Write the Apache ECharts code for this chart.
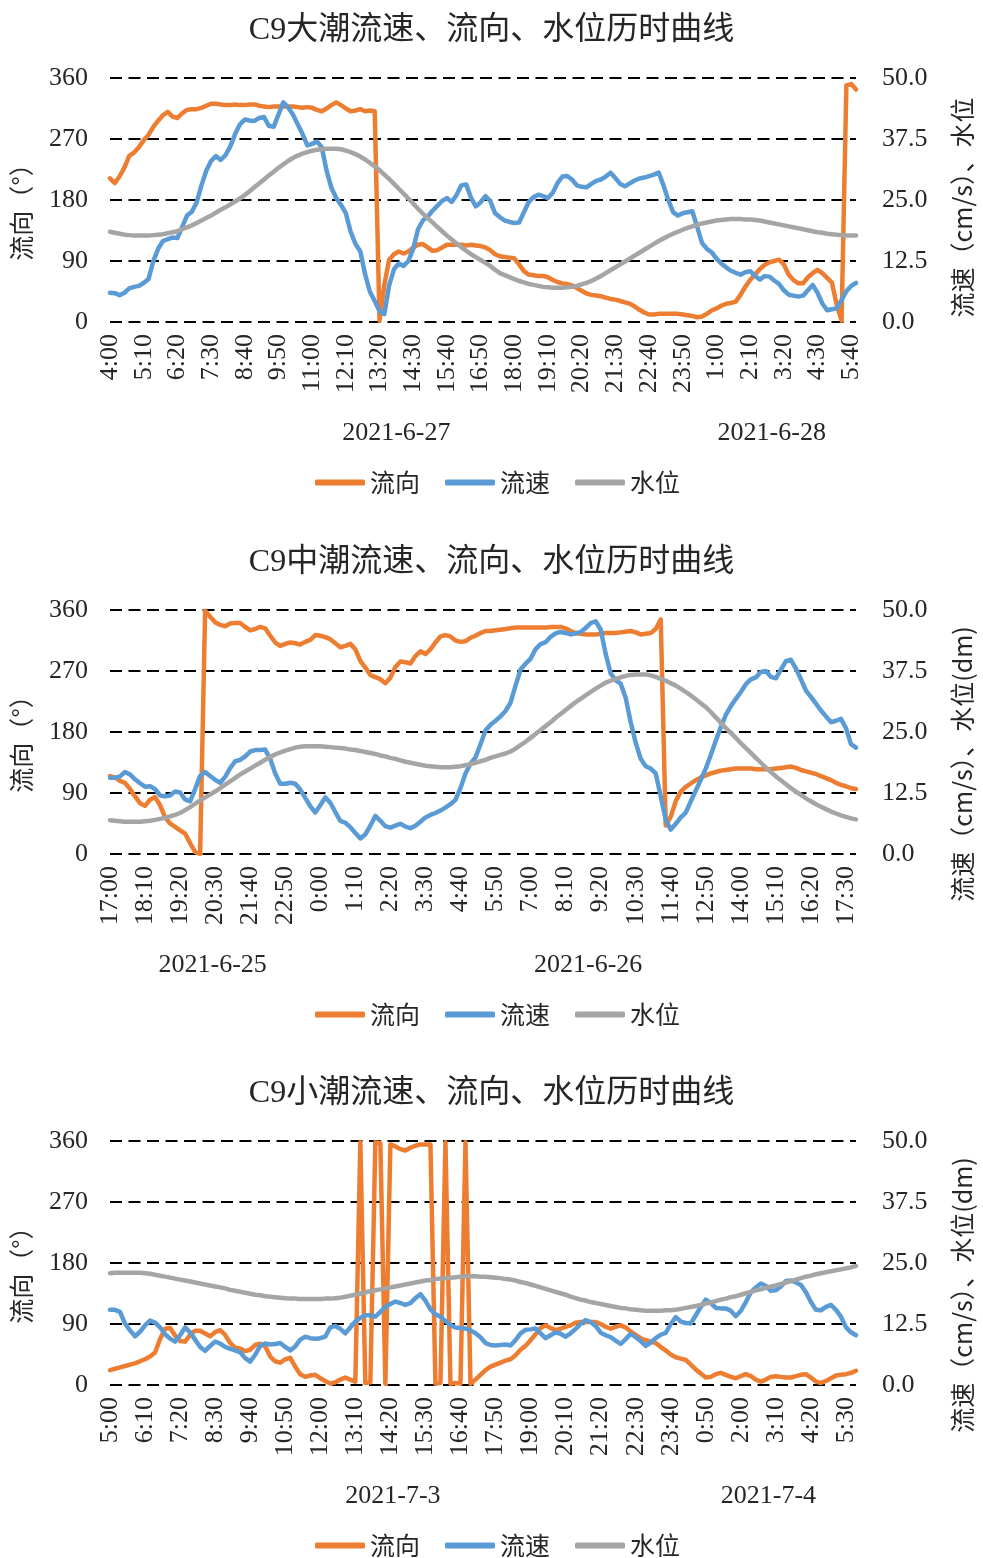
<!DOCTYPE html>
<html>
<head>
<meta charset="utf-8">
<script src="https://cdn.jsdelivr.net/npm/echarts@6/dist/echarts.min.js"></script>
<style>
html, body { margin: 0; padding: 0; background: #fff; }
#chart { width: 983px; height: 1558px; }
</style>
</head>
<body>
<div id="chart"></div>
<script>
// C9 station: flow direction (°), flow speed (cm/s) and water level (dm), one sample every 10 minutes

const titles = ['C9大潮流速、流向、水位历时曲线', 'C9中潮流速、流向、水位历时曲线', 'C9小潮流速、流向、水位历时曲线'];
const leftName = '流向（°）';
const rightNames = ['流速（cm/s）、水位', '流速（cm/s）、水位(dm)', '流速（cm/s）、水位(dm)'];
const seriesNames = ['流向', '流速', '水位'];
const startTimes = ['4:00', '17:00', '5:00'];
const dates1 = ['2021-6-27', '2021-6-28'];
const dates2 = ['2021-6-25', '2021-6-26'];
const dates3 = ['2021-7-3', '2021-7-4'];
const dirTicks = { min: 0, max: 360, step: 90 };
const spdTicks = { min: 0, max: 50, step: 12.5 };
const labelEvery = 7;

// spring tide, 2021-6-27 04:00 ~ 2021-6-28 05:50
const dir1 = [212,205,215,228,245,250,258,268,276,288,
297,305,310,303,301,308,313,314,314,316,
319,322,322,321,320,320,321,320,320,321,
321,319,318,317,318,318,318,318,318,317,
316,317,316,313,311,315,320,324,320,315,
311,312,314,311,312,311,2,55,92,100,
104,101,104,110,114,115,110,105,106,110,
114,114,114,114,113,114,113,112,110,
106,100,97,96,95,94,85,75,70,69,
68,68,66,62,59,57,56,54,50,46,
42,40,39,38,36,34,33,31,29,27,
23,18,14,11,11,12,12,12,12,12,
11,10,9,7,8,12,17,20,24,27,
28,30,40,52,62,70,78,84,88,90,
92,85,70,62,57,57,66,72,77,72,
65,58,25,2,349,351,343];
const spd1 = [6.0,5.9,5.5,6.0,6.9,7.2,7.4,8.0,8.8,12.5,
15.0,16.6,17.0,17.3,17.2,19.5,21.8,22.6,24.5,28.0,
31.0,33.0,34.0,33.2,34.2,36.0,38.5,40.5,41.5,41.3,
41.2,41.8,42.0,40.2,40.0,42.5,45.0,44.0,42.5,40.5,
38.5,36.2,36.5,37.0,35.8,31.0,27.5,25.4,24.0,22.3,
18.5,16.0,14.5,9.8,6.2,4.3,2.2,1.6,7.5,10.8,
12.0,11.5,12.5,15.0,19.0,20.8,21.6,22.8,23.8,24.8,
25.4,24.6,26.0,28.0,28.2,25.5,23.7,24.5,25.8,24.8,
22.3,21.5,20.8,20.5,20.3,20.4,22.5,24.6,25.6,
26.1,25.8,25.4,26.5,28.5,29.8,29.9,29.2,28.0,27.7,
27.6,28.3,28.9,29.2,29.8,30.6,29.5,28.3,27.8,28.4,
29.0,29.4,29.6,29.9,30.2,30.6,28.0,25.0,22.5,21.8,
22.3,22.5,22.7,19.5,16.2,15.0,14.3,13.0,12.0,11.2,
10.5,10.1,9.7,10.2,10.4,9.5,8.7,9.4,9.3,8.5,
7.8,6.5,5.6,5.4,5.2,5.4,6.5,7.6,6.0,3.8,
2.4,2.6,2.8,4.5,6.3,7.4,8.0];
const lvl1 = [18.5,18.3,18.1,17.9,17.8,17.7,17.7,17.7,17.7,17.8,
17.9,18.0,18.2,18.4,18.6,19.0,19.4,19.8,20.3,20.8,
21.3,21.8,22.4,23.0,23.5,24.1,24.7,25.3,26.0,26.8,
27.6,28.4,29.2,30.0,30.8,31.6,32.3,33.0,33.6,34.1,
34.5,34.8,35.1,35.3,35.4,35.5,35.5,35.5,35.4,35.1,
34.8,34.4,33.9,33.3,32.6,31.9,31.1,30.2,29.3,28.3,
27.3,26.3,25.3,24.3,23.2,22.2,21.3,20.4,19.5,18.6,
17.7,16.9,16.1,15.3,14.6,13.9,13.3,12.7,12.1,11.5,
10.7,10.0,9.6,9.2,8.8,8.4,8.1,7.8,7.6,
7.4,7.2,7.1,7.0,7.0,7.0,7.1,7.2,7.4,7.7,
8.0,8.4,8.9,9.4,10.0,10.6,11.2,11.8,12.4,13.0,
13.6,14.2,14.8,15.4,16.0,16.6,17.1,17.6,18.1,18.5,
18.9,19.3,19.6,19.9,20.2,20.4,20.6,20.8,20.9,21.0,
21.1,21.1,21.1,21.0,21.0,20.9,20.8,20.6,20.4,20.2,
20.0,19.8,19.6,19.4,19.2,19.0,18.8,18.6,18.4,18.3,
18.1,18.0,17.9,17.8,17.7,17.7,17.7];

// mean tide, 2021-6-25 17:00 ~ 2021-6-26 17:50
const dir2 = [115,113,108,105,96,85,75,71,80,84,
72,54,45,40,35,30,16,3,0,359,
350,342,338,336,340,341,341,335,330,332,
335,333,322,312,307,310,312,311,309,313,
316,323,322,320,317,311,305,307,310,302,
285,275,264,261,258,252,260,276,284,283,
281,292,299,295,302,312,321,323,321,315,
313,314,319,322,326,329,329,330,331,332,
333,334,334,334,334,334,334,334,335,335,
335,333,329,326,325,324,324,324,325,326,
326,326,327,328,329,327,324,325,326,332,
346,42,55,78,92,99,104,109,113,116,
119,121,123,124,125,126,126,126,126,125,
125,125,125,126,127,128,129,127,124,122,
120,118,115,112,109,105,102,100,97,96];
const spd2 = [15.6,15.6,15.9,16.8,16.3,15.3,14.5,13.8,13.9,13.3,
12.0,11.8,12.0,12.8,12.6,11.2,10.8,13.3,16.0,16.8,
16.0,15.2,14.6,15.8,17.6,19.0,19.3,20.0,21.0,21.3,
21.3,21.4,19.5,16.5,14.4,14.4,14.6,14.4,13.2,11.5,
9.8,8.5,10.0,11.6,10.5,8.6,6.8,6.4,5.5,4.3,
3.2,4.0,5.8,7.8,6.8,5.7,5.4,5.8,6.2,5.6,
5.3,5.8,6.6,7.5,8.0,8.4,8.9,9.5,10.2,11.1,
13.5,16.5,18.5,19.8,22.5,25.3,26.5,27.3,28.2,29.3,
31.0,34.5,37.8,39.0,40.0,42.0,43.0,43.4,44.5,45.2,
45.5,45.3,45.0,45.2,45.5,46.3,47.3,47.7,46.0,41.0,
37.0,35.6,34.9,32.0,27.0,22.8,19.5,18.0,17.5,16.5,
11.8,7.0,5.0,6.2,7.5,8.5,10.8,13.0,15.2,17.5,
20.3,23.2,26.0,28.5,30.3,31.8,33.2,34.8,35.8,36.2,
37.3,37.5,36.3,36.0,37.8,39.5,39.8,38.0,35.8,33.5,
32.2,30.8,29.4,28.2,27.0,27.3,27.7,25.8,22.5,21.8];
const lvl2 = [6.9,6.8,6.7,6.6,6.6,6.6,6.6,6.7,6.8,7.0,
7.2,7.4,7.7,8.0,8.4,9.0,9.6,10.3,11.0,11.6,
12.2,12.8,13.5,14.2,14.9,15.6,16.3,16.9,17.5,18.1,
18.7,19.3,19.9,20.4,20.8,21.2,21.5,21.8,22.0,22.1,
22.1,22.1,22.1,22.0,21.9,21.8,21.7,21.6,21.4,21.3,
21.1,20.9,20.7,20.5,20.2,20.0,19.7,19.5,19.2,18.9,
18.7,18.5,18.3,18.1,18.0,17.9,17.8,17.8,17.8,17.9,
18.0,18.2,18.4,18.7,19.0,19.3,19.7,20.0,20.3,20.6,
21.0,21.6,22.3,23.0,23.8,24.6,25.4,26.2,27.0,27.9,
28.7,29.5,30.3,31.1,31.8,32.5,33.2,33.9,34.5,35.1,
35.5,35.9,36.2,36.5,36.7,36.8,36.8,36.8,36.6,36.3,
35.9,35.5,35.0,34.5,33.9,33.2,32.5,31.7,30.9,30.1,
29.1,28.0,26.9,25.8,24.8,23.8,22.7,21.7,20.7,19.7,
18.7,17.7,16.8,15.9,15.1,14.3,13.5,12.8,12.1,11.4,
10.8,10.2,9.7,9.2,8.7,8.3,7.9,7.6,7.3,7.1];

// neap tide, 2021-7-3 05:00 ~ 2021-7-4 05:50
const dir3 = [22,24,26,28,30,32,35,38,42,48,
68,83,84,73,65,64,74,80,80,76,
72,78,81,74,62,55,54,50,52,59,
61,57,42,35,33,38,40,27,16,12,
14,15,10,6,2,4,8,11,8,5,
358,3,4,358,357,2,355,352,348,346,
350,353,355,355,355,2,3,358,2,3,
2,358,2,8,15,22,27,30,33,36,
38,44,52,58,66,75,84,88,84,81,
83,86,88,92,93,93,93,93,90,86,
83,86,88,85,79,74,69,66,64,62,
56,51,45,41,39,37,30,23,17,11,
12,16,18,15,12,10,13,16,13,8,
5,8,12,13,12,11,11,13,15,16,
11,5,3,6,10,14,15,16,18,21];
const spd3 = [15.4,15.4,15.0,12.6,11.2,10.0,10.9,12.2,13.2,12.8,
11.8,10.4,9.5,8.9,10.2,11.8,10.8,9.3,7.8,7.0,
8.0,8.9,8.5,7.8,7.4,7.1,6.7,5.5,4.8,6.2,
8.0,8.5,8.3,8.4,8.6,7.8,7.1,7.9,9.3,9.9,
9.6,9.5,9.6,9.9,11.8,12.1,11.5,10.6,11.8,13.0,
13.8,14.3,14.3,14.0,15.0,16.0,16.6,17.1,16.8,16.4,
16.8,17.8,18.6,17.3,15.5,14.5,14.0,13.1,12.3,11.8,
11.7,11.6,11.2,10.6,9.8,8.6,8.2,8.1,8.2,8.3,
8.1,9.2,10.6,11.3,11.4,11.6,10.6,9.6,10.2,10.8,
10.5,9.9,10.6,11.5,12.5,13.3,12.9,12.1,10.7,10.2,
9.8,9.1,8.4,9.4,10.5,9.8,9.0,8.0,8.7,9.6,
10.3,10.7,12.5,13.9,13.0,12.7,12.6,14.3,16.0,17.5,
16.8,15.8,15.7,15.7,15.2,14.1,15.2,17.0,19.0,20.0,
20.8,20.3,19.3,19.4,20.2,21.3,21.4,21.0,20.5,19.0,
17.0,15.4,15.3,16.0,16.4,15.4,14.0,11.8,10.8,10.2];
const lvl3 = [22.9,23.0,23.0,23.0,23.0,23.0,23.0,22.9,22.8,22.6,
22.4,22.2,22.0,21.8,21.6,21.4,21.2,21.0,20.8,20.6,
20.4,20.2,20.0,19.8,19.5,19.3,19.1,18.9,18.7,18.5,
18.4,18.2,18.1,18.0,17.9,17.8,17.7,17.7,17.6,17.6,
17.6,17.6,17.6,17.7,17.7,17.8,17.9,18.1,18.3,18.5,
18.7,19.0,19.2,19.4,19.6,19.8,20.0,20.2,20.4,20.6,
20.8,21.0,21.2,21.4,21.5,21.7,21.8,21.9,22.0,22.1,
22.2,22.3,22.3,22.3,22.2,22.2,22.1,22.0,21.9,21.7,
21.6,21.4,21.1,20.9,20.6,20.3,20.0,19.7,19.4,19.1,
18.8,18.5,18.1,17.8,17.5,17.3,17.0,16.8,16.6,16.4,
16.2,16.0,15.8,15.7,15.5,15.4,15.3,15.2,15.2,15.2,
15.2,15.3,15.3,15.4,15.6,15.8,16.0,16.2,16.4,16.7,
16.9,17.2,17.5,17.7,18.0,18.2,18.5,18.8,19.1,19.4,
19.6,19.9,20.2,20.4,20.7,21.0,21.3,21.6,21.9,22.2,
22.4,22.7,22.9,23.1,23.3,23.5,23.7,23.9,24.1,24.4];

const panels = [
  { title: titles[0], rightName: rightNames[0], start: startTimes[0], dates: dates1, dir: dir1, spd: spd1, lvl: lvl1 },
  { title: titles[1], rightName: rightNames[1], start: startTimes[1], dates: dates2, dir: dir2, spd: spd2, lvl: lvl2 },
  { title: titles[2], rightName: rightNames[2], start: startTimes[2], dates: dates3, dir: dir3, spd: spd3, lvl: lvl3 }
];

const COLORS = ['#ED7D31', '#5B9BD5', '#A5A5A5'];
const SERIF = '"Liberation Serif", "Noto Sans CJK SC", serif';
const CJK = '"Noto Sans CJK SC", sans-serif';
const TEXT = '#262626';
const PANEL_TOP = [0, 532, 1063];

// 10-minute time stamps starting from "H:MM"; also return the day each stamp belongs to
function makeTimes(start, count) {
  const [h, m] = start.split(':').map(Number);
  const labels = [], days = [];
  for (let i = 0; i < count; i++) {
    const t = h * 60 + m + i * 10;
    labels.push(Math.floor(t / 60) % 24 + ':' + String(t % 60).padStart(2, '0'));
    days.push(Math.floor(t / 1440));
  }
  return { labels, days };
}

const option = {
  animation: false,
  backgroundColor: '#fff',
  title: [], legend: [], grid: [], xAxis: [], yAxis: [], series: []
};

panels.forEach((p, k) => {
  const dy = PANEL_TOP[k];
  const times = makeTimes(p.start, p.dir.length);
  p.days = times.days;

  option.title.push({
    text: p.title, left: 'center', top: 10 + dy,
    textStyle: { fontFamily: SERIF, fontSize: 32, fontWeight: 'normal', color: TEXT }
  });
  option.grid.push({ left: 110, right: 121, top: 78 + dy, height: 244 });
  option.xAxis.push({
    type: 'category', gridIndex: k, data: times.labels, boundaryGap: false,
    axisLine: { show: false }, axisTick: { show: false }, splitLine: { show: false },
    axisLabel: { interval: (i) => i % labelEvery === 0, rotate: 90, margin: 12,
      fontFamily: SERIF, fontSize: 26, color: TEXT }
  });
  option.yAxis.push({
    type: 'value', gridIndex: k, position: 'left',
    min: dirTicks.min, max: dirTicks.max, interval: dirTicks.step,
    name: leftName, nameLocation: 'middle', nameRotate: 90, nameGap: 76,
    nameTextStyle: { fontFamily: CJK, fontSize: 25, color: TEXT, padding: [0, 12, 0, 0] },
    axisLine: { show: false }, axisTick: { show: false },
    axisLabel: { margin: 22, fontFamily: SERIF, fontSize: 26, color: TEXT },
    splitLine: { show: true, lineStyle: { color: '#000', width: 2, type: [12, 6.5] } }
  });
  option.yAxis.push({
    type: 'value', gridIndex: k, position: 'right',
    min: spdTicks.min, max: spdTicks.max, interval: spdTicks.step,
    name: p.rightName, nameLocation: 'middle', nameRotate: 90, nameGap: 94,
    nameTextStyle: { fontFamily: CJK, fontSize: 25, color: TEXT, padding: [0, k === 0 ? 15 : 64, 0, 0] },
    axisLine: { show: false }, axisTick: { show: false }, splitLine: { show: false },
    axisLabel: { margin: 26, fontFamily: SERIF, fontSize: 26, color: TEXT,
      formatter: v => v.toFixed(1) }
  });

  [p.dir, p.spd, p.lvl].forEach((values, s) => {
    option.series.push({
      type: 'line', name: seriesNames[s],
      xAxisIndex: k, yAxisIndex: 2 * k + (s === 0 ? 0 : 1),
      data: values, symbol: 'none', smooth: false,
      color: COLORS[s],
      lineStyle: { width: 4.5, color: COLORS[s], cap: 'round', join: 'round' },
      z: 2 + s
    });
  });

  option.legend.push({
    data: seriesNames, left: 310, top: 465 + dy,
    icon: 'roundRect', itemWidth: 50, itemHeight: 6, itemGap: 25,
    textStyle: { fontFamily: CJK, fontSize: 25, color: TEXT }
  });
});

const chart = echarts.init(document.getElementById('chart'), null, { renderer: 'canvas' });
chart.setOption(option);

// date labels centred under the span of each day
const dateTexts = [];
panels.forEach((p, k) => {
  const first = p.days[0];
  p.dates.forEach((d, j) => {
    const idx = [];
    p.days.forEach((day, i) => { if (day - first === j) idx.push(i); });
    if (!idx.length) return;
    const x0 = chart.convertToPixel({ xAxisIndex: k }, idx[0]);
    const x1 = chart.convertToPixel({ xAxisIndex: k }, idx[idx.length - 1]);
    dateTexts.push({
      type: 'text', x: (x0 + x1) / 2, y: 433 + PANEL_TOP[k],
      style: { text: d, fontFamily: SERIF, fontSize: 26, fill: TEXT, align: 'center', verticalAlign: 'middle' }
    });
  });
});
chart.setOption({ graphic: dateTexts });
</script>
</body>
</html>
